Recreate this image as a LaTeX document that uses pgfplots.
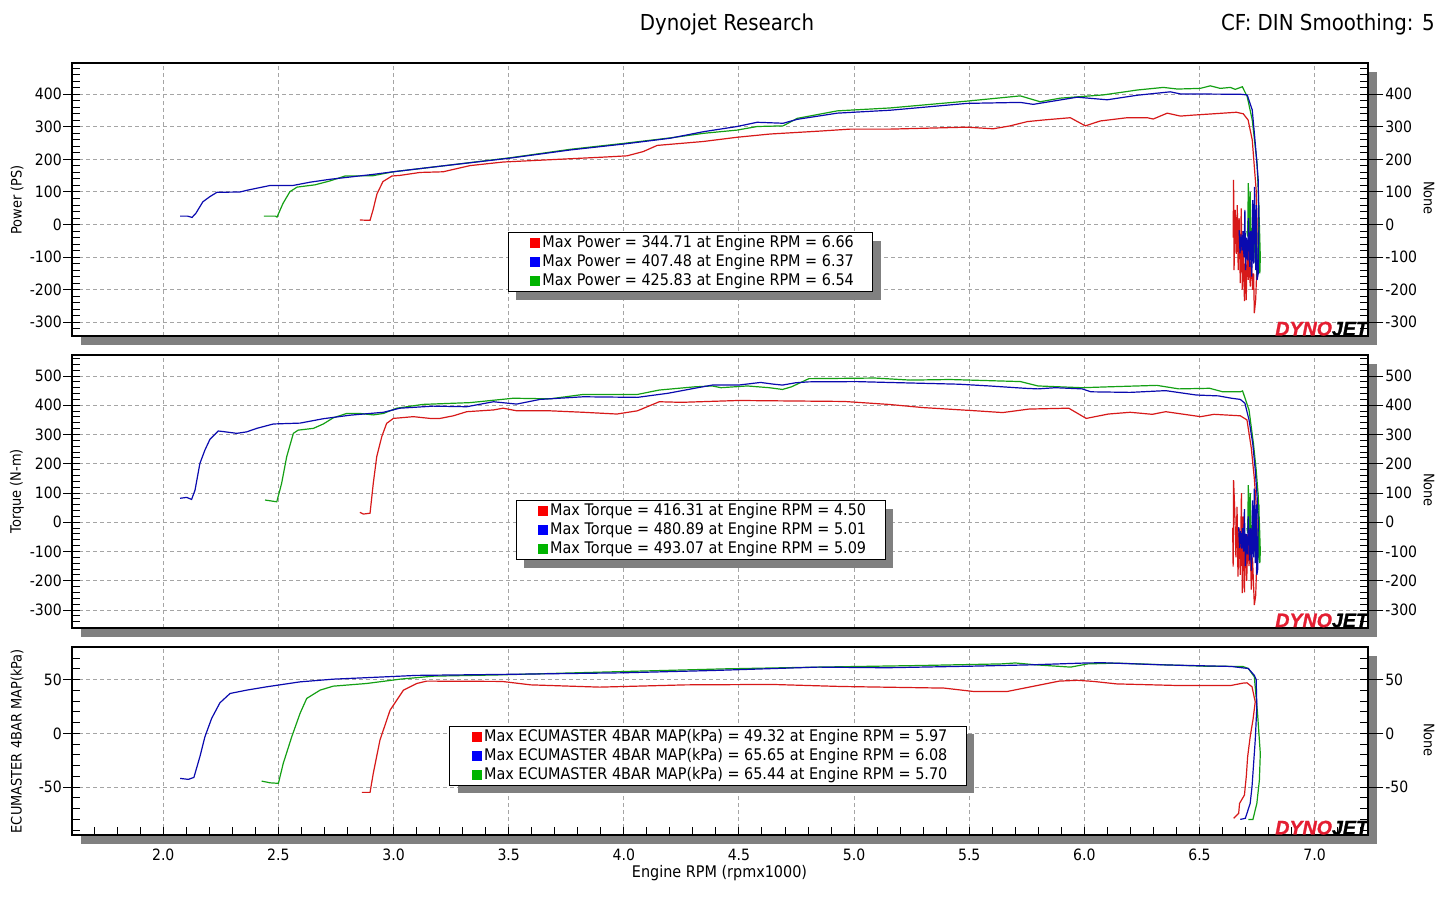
\documentclass[border=0pt]{standalone}
\usepackage{pgfplots}
\pgfplotsset{compat=1.18}
\usepackage{fontspec}
\setmainfont{DejaVu Sans}[FakeStretch=0.9]
\newfontfamily\logofont{Liberation Sans}[BoldItalicFeatures={FakeBold=1.2}]
\usetikzlibrary{shadows}

\definecolor{linered}{RGB}{215,25,25}
\definecolor{lineblue}{RGB}{10,10,175}
\definecolor{linegreen}{RGB}{20,160,20}
\definecolor{keyred}{RGB}{250,0,0}
\definecolor{keyblue}{RGB}{0,0,250}
\definecolor{keygreen}{RGB}{0,180,0}
\definecolor{shadowgray}{RGB}{128,128,128}
\definecolor{gridgray}{RGB}{165,165,165}
\definecolor{logored}{RGB}{228,30,50}

\newcommand\ticksize{\fontsize{7.8}{9}\selectfont}
\newcommand\legsize{\fontsize{8}{9.5}\selectfont}
\newcommand\titlesize{\fontsize{11}{13}\selectfont}
\newcommand\labelsize{\fontsize{7.2}{8.6}\selectfont}

\pgfplotsset{
  dyno/.style={scale only axis, width=648pt, xmin=1.605, xmax=7.233,
    tick label style={font=\ticksize},
    /pgf/number format/assume math mode=true,
    tick style={black, line width=0.5pt},
    axis line style={line width=0.9pt}},
  frame/.style={dyno,
    grid=major, grid style={gridgray, line width=0.5pt, dash pattern=on 2pt off 1.5pt},
    tick align=inside, major tick length=4pt, minor tick length=4pt,
    ytick pos=both, yticklabels={},
    axis background/.style={fill=white,
      drop shadow={shadow xshift=4.5pt, shadow yshift=-4.5pt, fill=shadowgray, opacity=1}},
    legend cell align=left,
    every axis plot/.append style={line width=0.6pt}},
  noxticks/.style={xtick={2,2.5,...,7}, xticklabels={}, xtick style={draw=none}},
  leftscale/.style={dyno, xtick=\empty, ytick pos=left, tick align=outside,
    major tick length=4.5pt, axis line style={draw=none},
    yticklabel style={inner xsep=0.6pt}},
  rightscale/.style={dyno, xtick=\empty, ytick pos=right, tick align=outside,
    major tick length=7.5pt, axis line style={draw=none},
    yticklabel style={inner xsep=0.8pt}},
  dynolegend/.style={legend style={at={#1}, anchor=north west, font=\legsize,
    draw=black, line width=0.5pt, fill=white, inner xsep=8.3pt, inner ysep=0.5pt,
    nodes={inner xsep=1.2pt, inner ysep=0.8pt, text height=6.1pt, text depth=1.8pt},
    drop shadow={shadow xshift=4pt, shadow yshift=-4pt, fill=shadowgray, opacity=1}}},
  pone/.style={at={(36.15pt,-31.65pt)}, anchor=north west, height=136.35pt,
    ymin=-342, ymax=495, ytick={-300,-200,...,400}},
  ptwo/.style={at={(36.15pt,-177.5pt)}, anchor=north west, height=136.35pt,
    ymin=-360.5, ymax=571.8, ytick={-300,-200,...,500}},
  pthree/.style={at={(36.15pt,-323.65pt)}, anchor=north west, height=93.85pt,
    ymin=-94.4, ymax=80, ytick={-50,0,50}},
}

\newcommand\dynologo{\node[anchor=south east, inner sep=0pt,
  font=\logofont\fontsize{9.8}{10}\selectfont\bfseries\itshape]
  at (rel axis cs:1,0) {\textcolor{logored}{DYNO}JET};}
% solid colour square used as legend key (drawn on the basic layer so that
% the legend's shadow is not repeated on it)
\newcommand\keyimage[1]{\addlegendimage{legend image code/.code={%
  \pgfsetfillcolor{#1}\pgfpathmoveto{\pgfpointorigin}%
  \pgfpathrectangle{\pgfpoint{2.6pt}{-2.5pt}}{\pgfpoint{5pt}{5pt}}\pgfusepath{fill}}}}

\begin{document}
\begin{tikzpicture}
\path[use as bounding box] (0,0) rectangle (728pt,-455pt);

% ---------------- Power ----------------
\begin{axis}[frame, pone, noxticks, minor ytick={-340,-320,...,480},
  dynolegend={(0.336,0.381)}]
\keyimage{keyred}\addlegendentry{Max Power = 344.71 at Engine RPM = 6.66}
\keyimage{keyblue}\addlegendentry{Max Power = 407.48 at Engine RPM = 6.37}
\keyimage{keygreen}\addlegendentry{Max Power = 425.83 at Engine RPM = 6.54}
\addplot[linered, forget plot] coordinates {
(2.854,14)(2.898,13)(2.911,45)(2.928,94)(2.954,132)(2.993,149)(3.028,151)(3.115,160)
(3.215,162)(3.332,181)(3.476,192)(3.649,198)(3.910,207)(4.014,211)(4.084,224)(4.145,243)
(4.345,255)(4.492,268)(4.636,278)(4.853,287)(4.983,293)(5.157,293)(5.491,299)(5.604,294)
(5.678,303)(5.752,316)(5.822,321)(5.939,328)(6.004,303)(6.069,318)(6.186,328)(6.273,328)
(6.299,324)(6.360,342)(6.417,333)(6.473,336)(6.560,340)(6.660,344.71)(6.690,340)(6.711,321)
(6.729,260)(6.738,178)(6.746,106)
(6.750,0)(6.748,-150)(6.744,-230)(6.738,-272)(6.735,-150)(6.730,-200)(6.725,-100)(6.720,-190)
(6.716,-60)(6.712,-170)(6.707,-60)(6.703,-232)(6.699,-120)(6.695,-235)(6.690,-20)(6.686,-200)
(6.681,50)(6.677,-180)(6.672,20)(6.668,-140)(6.664,60)(6.660,-90)(6.655,45)(6.650,-140)
(6.648,137)(6.646,-40)};
\addplot[linegreen, forget plot] coordinates {
(2.437,26)(2.487,26)(2.494,23)(2.520,65)(2.550,101)(2.581,115)(2.659,122)(2.724,134)
(2.789,149)(2.911,150)(2.998,162)(3.189,178)(3.506,205)(3.767,231)(3.997,249)(4.201,266)
(4.345,280)(4.492,290)(4.579,301)(4.692,303)(4.753,326)(4.927,349)(5.157,358)(5.491,379)
(5.722,395)(5.808,377)(5.895,388)(6.082,398)(6.230,413)(6.343,421)(6.404,416)(6.503,418)
(6.547,425.83)(6.590,418)(6.634,421)(6.655,415)(6.686,423)(6.707,393)(6.729,321)(6.750,189)
(6.755,106)
(6.760,0)(6.764,-100)(6.762,-150)(6.758,60)(6.755,-120)(6.750,-160)(6.746,40)(6.742,-118)
(6.738,-30)(6.733,-100)(6.729,-10)(6.725,-90)(6.720,100)(6.716,-60)(6.712,127)(6.709,-37)
(6.706,-20)};
\addplot[lineblue, forget plot] coordinates {
(2.073,26)(2.105,26)(2.125,22)(2.142,35)(2.172,70)(2.203,86)(2.233,99)(2.333,100)
(2.368,106)(2.464,120)(2.563,120)(2.637,130)(2.724,139)(2.911,154)(2.998,162)(3.189,178)
(3.506,204)(3.767,229)(3.997,247)(4.201,265)(4.345,285)(4.492,301)(4.579,314)(4.692,311)
(4.753,323)(4.927,342)(5.157,351)(5.491,372)(5.722,375)(5.778,369)(5.969,391)(6.099,383)
(6.230,397)(6.373,407.48)(6.417,401)(6.677,400)(6.707,398)(6.729,352)(6.742,250)(6.755,137)
(6.758,0)(6.755,-150)(6.750,-170)(6.747,60)(6.744,-140)(6.739,116)(6.735,-120)(6.731,75)
(6.727,-160)(6.722,-20)(6.718,-130)(6.713,20)(6.709,-110)(6.704,-40)(6.700,-140)(6.697,45)
(6.693,-100)(6.689,-20)(6.685,-80)(6.680,-30)(6.676,-88)(6.672,-17)};
\dynologo
\end{axis}
\begin{axis}[leftscale, pone]\end{axis}
\begin{axis}[rightscale, pone]\end{axis}

% ---------------- Torque ----------------
\begin{axis}[frame, ptwo, noxticks, minor ytick={-360,-340,...,560},
  dynolegend={(0.342,0.468)}]
\keyimage{keyred}\addlegendentry{Max Torque = 416.31 at Engine RPM = 4.50}
\keyimage{keyblue}\addlegendentry{Max Torque = 480.89 at Engine RPM = 5.01}
\keyimage{keygreen}\addlegendentry{Max Torque = 493.07 at Engine RPM = 5.09}
\addplot[linered, forget plot] coordinates {
(2.854,34)(2.869,28)(2.898,31)(2.912,133)(2.927,224)(2.949,293)(2.970,338)(2.999,355)
(3.086,361)(3.159,355)(3.202,355)(3.260,364)(3.318,378)(3.434,384)(3.476,390)(3.535,381)
(3.680,381)(3.824,376)(3.970,370)(4.059,381)(4.154,412)(4.250,410)(4.498,416.31)(4.957,413)
(5.148,403)(5.301,392)(5.530,381)(5.645,375)(5.760,387)(5.932,390)(6.008,355)(6.104,370)
(6.199,376)(6.295,369)(6.353,378)(6.505,361)(6.563,369)(6.677,364)(6.706,350)(6.725,253)
(6.738,150)(6.746,60)
(6.750,0)(6.748,-150)(6.744,-250)(6.738,-283)(6.734,-200)(6.730,-120)(6.725,-230)(6.720,-80)
(6.715,-150)(6.710,-40)(6.705,-200)(6.700,-40)(6.695,-240)(6.690,20)(6.686,-242)(6.682,100)
(6.677,-180)(6.672,-20)(6.667,-186)(6.663,53)(6.658,-120)(6.653,40)(6.648,144)(6.646,-152)
(6.644,-20)};
\addplot[linegreen, forget plot] coordinates {
(2.442,76)(2.493,70)(2.514,133)(2.536,224)(2.565,304)(2.586,315)(2.652,321)(2.695,336)
(2.738,357)(2.797,372)(2.854,372)(2.912,367)(2.956,372)(3.014,390)(3.129,403)(3.332,409)
(3.520,424)(3.680,422)(3.824,437)(4.059,437)(4.154,452)(4.307,463)(4.384,466)(4.422,460)
(4.479,463)(4.536,466)(4.632,460)(4.689,454)(4.728,463)(4.804,491)(4.957,492)(5.090,493.07)
(5.244,486)(5.416,488)(5.722,481)(5.798,466)(5.990,460)(6.104,463)(6.315,468)(6.410,456)
(6.544,458)(6.601,446)(6.677,446)(6.687,449)(6.715,384)(6.734,270)(6.746,180)(6.755,90)
(6.760,0)(6.764,-100)(6.762,-140)(6.758,60)(6.755,-120)(6.750,-150)(6.746,40)(6.742,-118)
(6.738,-30)(6.733,-100)(6.729,-10)(6.725,-90)(6.720,100)(6.716,-60)(6.712,127)(6.709,-37)
(6.706,-20)};
\addplot[lineblue, forget plot] coordinates {
(2.073,82)(2.102,85)(2.123,78)(2.138,110)(2.159,201)(2.181,247)(2.203,284)(2.239,312)
(2.261,310)(2.319,304)(2.362,309)(2.406,321)(2.478,336)(2.594,339)(2.695,354)(2.811,366)
(2.956,376)(3.028,390)(3.173,397)(3.318,395)(3.434,412)(3.535,404)(3.636,420)(3.824,429)
(4.059,427)(4.192,441)(4.307,458)(4.384,469)(4.498,469)(4.594,478)(4.651,472)(4.689,469)
(4.747,477)(4.804,480)(5.010,480.89)(5.148,478)(5.454,472)(5.588,466)(5.741,458)(5.798,456)
(5.874,460)(5.990,456)(6.028,446)(6.199,444)(6.353,450)(6.486,435)(6.582,432)(6.639,424)
(6.677,420)(6.697,407)(6.715,350)(6.731,270)(6.742,180)(6.750,90)(6.755,0)
(6.753,-160)(6.749,-180)(6.746,60)(6.742,-140)(6.738,115)(6.734,-120)(6.730,75)(6.726,-165)
(6.721,-20)(6.717,-130)(6.712,20)(6.708,-110)(6.703,-40)(6.699,-150)(6.695,45)(6.691,-100)
(6.687,-20)(6.683,-90)(6.678,-30)(6.674,-88)(6.670,-17)};
\dynologo
\end{axis}
\begin{axis}[leftscale, ptwo]\end{axis}
\begin{axis}[rightscale, ptwo]\end{axis}

% ---------------- Manifold pressure ----------------
\begin{axis}[frame, pthree, minor ytick={-90,-80,...,80},
  xtick={2,2.5,...,7}, minor xtick={1.7,1.8,...,7.2}, xtick pos=left,
  xticklabel style={yshift=-3.5pt, /pgf/number format/.cd, fixed, fixed zerofill, precision=1},
  dynolegend={(0.291,0.581)}]
\keyimage{keyred}\addlegendentry{Max ECUMASTER 4BAR MAP(kPa) = 49.32 at Engine RPM = 5.97}
\keyimage{keyblue}\addlegendentry{Max ECUMASTER 4BAR MAP(kPa) = 65.65 at Engine RPM = 6.08}
\keyimage{keygreen}\addlegendentry{Max ECUMASTER 4BAR MAP(kPa) = 65.44 at Engine RPM = 5.70}
\addplot[linered, forget plot] coordinates {
(2.862,-54.8)(2.898,-54.8)(2.912,-37.1)(2.941,-6.2)(2.985,21.6)(3.043,40.2)(3.101,46.4)
(3.144,48.6)(3.471,48.3)(3.596,45.1)(3.895,43.0)(4.269,45.1)(4.643,45.5)(4.943,43.6)
(5.391,42.1)(5.517,39.0)(5.666,39.0)(5.891,48.6)(5.970,49.32)(6.040,48.3)(6.140,46.0)
(6.389,44.6)(6.638,44.6)(6.688,46.7)(6.706,47.0)(6.728,43.3)(6.742,29.3)(6.732,12.3)
(6.720,-3.1)(6.709,-21.7)(6.703,-40.3)(6.695,-57.3)(6.674,-65.0)(6.670,-74.3)(6.648,-78.9)};
\addplot[linegreen, forget plot] coordinates {
(2.427,-44.3)(2.464,-45.9)(2.500,-46.4)(2.521,-27.9)(2.558,-3.1)(2.594,18.6)(2.623,32.5)
(2.681,40.2)(2.738,43.9)(2.884,46.4)(3.028,50.4)(3.173,53.2)(3.463,54.4)(3.895,56.9)
(4.444,60.0)(4.843,61.6)(5.291,63.1)(5.641,64.6)(5.700,65.44)(5.791,63.7)(5.940,61.6)
(6.015,64.6)(6.140,65.3)(6.514,62.5)(6.688,62.2)(6.712,60.3)(6.738,52.6)(6.752,18.6)
(6.764,-18.6)(6.760,-43.4)(6.749,-65.0)(6.732,-79.9)(6.712,-79.9)};
\addplot[lineblue, forget plot] coordinates {
(2.073,-41.8)(2.109,-42.7)(2.133,-40.9)(2.159,-21.7)(2.181,-3.1)(2.210,13.9)(2.246,28.4)
(2.290,37.1)(2.362,40.2)(2.449,43.3)(2.594,47.9)(2.738,50.4)(2.999,52.9)(3.098,53.9)
(3.463,54.8)(3.995,56.3)(4.394,58.5)(4.843,61.6)(5.142,61.0)(5.517,62.5)(5.765,63.7)
(6.015,65.5)(6.082,65.65)(6.339,63.7)(6.638,62.2)(6.712,60.3)(6.738,53.9)(6.746,50.1)
(6.749,24.7)(6.742,-6.2)(6.734,-31.0)(6.728,-49.6)(6.720,-65.0)(6.699,-78.9)(6.677,-79.9)};
\dynologo
\end{axis}
\begin{axis}[leftscale, pthree]\end{axis}
\begin{axis}[rightscale, pthree]\end{axis}

% ---------------- titles and axis names ----------------
\node[font=\titlesize] at (363.5pt,-12pt) {Dynojet Research};
\node[font=\titlesize, anchor=east, inner sep=0pt] at (717.5pt,-12pt) {CF: DIN Smoothing: 5};
\node[font=\labelsize, rotate=90] at (8.5pt,-99.85pt) {Power (PS)};
\node[font=\labelsize, rotate=90] at (8.5pt,-245.7pt) {Torque (N-m)};
\node[font=\labelsize, rotate=90] at (8.5pt,-370.6pt) {ECUMASTER 4BAR MAP(kPa)};
\node[font=\labelsize, rotate=-90] at (714.5pt,-99pt) {None};
\node[font=\labelsize, rotate=-90] at (714.5pt,-245pt) {None};
\node[font=\labelsize, rotate=-90] at (714.5pt,-370pt) {None};
\node[font=\legsize] at (359.75pt,-436.5pt) {Engine RPM (rpmx1000)};
\end{tikzpicture}
\end{document}
